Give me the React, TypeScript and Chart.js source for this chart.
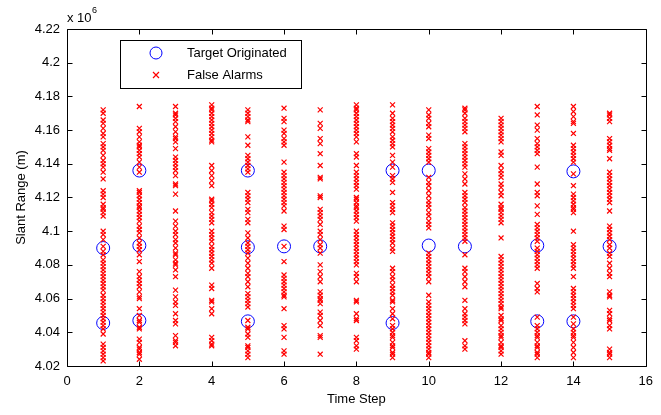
import React, { useEffect, useRef } from "react";
import { Chart, registerables } from "chart.js";

Chart.register(...registerables);

// Values in units of 10^6 m
const xTicks = [0, 2, 4, 6, 8, 10, 12, 14, 16];
const yTickLabels = ["4.02", "4.04", "4.06", "4.08", "4.1", "4.12", "4.14", "4.16", "4.18", "4.2", "4.22"];
const seriesLabels = ["Target Originated", "False Alarms"];

const targetSteps = [1, 1, 2, 2, 2, 5, 5, 5, 6, 7, 9, 9, 10, 10, 11, 13, 13, 14, 14, 15];
const targetRanges = [4.090, 4.0455, 4.136, 4.0915, 4.047, 4.136, 4.0905, 4.0465, 4.091, 4.091, 4.136, 4.0455, 4.136, 4.0915, 4.091, 4.0915, 4.0465, 4.1355, 4.0465, 4.091];

const fa1 = [4.172, 4.170, 4.166, 4.164, 4.161, 4.158, 4.156, 4.152, 4.150, 4.148, 4.145, 4.142, 4.140, 4.138, 4.135, 4.131, 4.124, 4.122, 4.120, 4.116, 4.114, 4.113, 4.111, 4.109, 4.100, 4.098, 4.095, 4.091, 4.088, 4.086, 4.083, 4.081, 4.079, 4.077, 4.075, 4.073, 4.071, 4.069, 4.067, 4.065, 4.062, 4.060, 4.058, 4.056, 4.054, 4.052, 4.050, 4.048, 4.046, 4.044, 4.042, 4.039, 4.033, 4.031, 4.029, 4.027, 4.025, 4.023];
const fa2 = [4.174, 4.161, 4.159, 4.156, 4.153, 4.151, 4.150, 4.148, 4.146, 4.144, 4.141, 4.138, 4.135, 4.124, 4.123, 4.121, 4.119, 4.117, 4.115, 4.114, 4.112, 4.110, 4.108, 4.106, 4.103, 4.101, 4.099, 4.096, 4.093, 4.091, 4.089, 4.086, 4.082, 4.076, 4.073, 4.071, 4.069, 4.067, 4.064, 4.061, 4.060, 4.054, 4.050, 4.047, 4.046, 4.043, 4.042, 4.036, 4.034, 4.031, 4.030, 4.028, 4.027, 4.024];
const fa3 = [4.174, 4.170, 4.169, 4.167, 4.165, 4.162, 4.159, 4.156, 4.155, 4.153, 4.149, 4.144, 4.142, 4.140, 4.138, 4.136, 4.133, 4.128, 4.127, 4.122, 4.112, 4.106, 4.103, 4.100, 4.098, 4.095, 4.093, 4.090, 4.087, 4.086, 4.083, 4.081, 4.080, 4.077, 4.073, 4.065, 4.061, 4.058, 4.056, 4.051, 4.047, 4.045, 4.038, 4.035, 4.034, 4.032];
const fa4 = [4.175, 4.173, 4.172, 4.170, 4.168, 4.166, 4.164, 4.162, 4.160, 4.158, 4.156, 4.154, 4.153, 4.139, 4.136, 4.133, 4.130, 4.127, 4.119, 4.118, 4.116, 4.114, 4.111, 4.109, 4.107, 4.105, 4.100, 4.098, 4.096, 4.094, 4.091, 4.089, 4.087, 4.085, 4.083, 4.081, 4.078, 4.068, 4.066, 4.059, 4.058, 4.054, 4.051, 4.037, 4.035, 4.033, 4.032];
const fa5 = [4.172, 4.170, 4.168, 4.166, 4.165, 4.156, 4.151, 4.145, 4.143, 4.141, 4.139, 4.137, 4.135, 4.123, 4.121, 4.119, 4.117, 4.113, 4.111, 4.107, 4.105, 4.099, 4.096, 4.093, 4.091, 4.089, 4.087, 4.084, 4.081, 4.078, 4.075, 4.073, 4.070, 4.067, 4.063, 4.061, 4.059, 4.057, 4.055, 4.047, 4.043, 4.042, 4.039, 4.037, 4.032, 4.031, 4.029, 4.027, 4.025];
const fa6 = [4.173, 4.167, 4.165, 4.160, 4.158, 4.155, 4.153, 4.151, 4.141, 4.135, 4.133, 4.131, 4.129, 4.127, 4.125, 4.123, 4.121, 4.119, 4.117, 4.115, 4.112, 4.103, 4.101, 4.091, 4.082, 4.074, 4.072, 4.070, 4.068, 4.066, 4.064, 4.062, 4.061, 4.054, 4.044, 4.042, 4.037, 4.029, 4.027];
const fa7 = [4.172, 4.164, 4.161, 4.155, 4.152, 4.146, 4.139, 4.132, 4.131, 4.121, 4.120, 4.113, 4.111, 4.109, 4.107, 4.104, 4.100, 4.098, 4.095, 4.092, 4.090, 4.087, 4.080, 4.076, 4.073, 4.070, 4.064, 4.062, 4.060, 4.059, 4.057, 4.052, 4.050, 4.047, 4.044, 4.038, 4.037, 4.027];
const fa8 = [4.175, 4.173, 4.172, 4.170, 4.168, 4.166, 4.164, 4.162, 4.160, 4.158, 4.156, 4.153, 4.146, 4.144, 4.139, 4.135, 4.133, 4.131, 4.129, 4.127, 4.125, 4.120, 4.119, 4.117, 4.115, 4.114, 4.112, 4.110, 4.108, 4.106, 4.100, 4.098, 4.096, 4.094, 4.092, 4.090, 4.088, 4.086, 4.084, 4.082, 4.080, 4.075, 4.073, 4.070, 4.059, 4.058, 4.051, 4.048, 4.047, 4.037, 4.035, 4.032, 4.030];
const fa9 = [4.175, 4.170, 4.167, 4.165, 4.163, 4.161, 4.159, 4.156, 4.154, 4.152, 4.150, 4.145, 4.141, 4.138, 4.133, 4.131, 4.129, 4.123, 4.117, 4.115, 4.113, 4.111, 4.105, 4.103, 4.101, 4.099, 4.097, 4.095, 4.093, 4.090, 4.088, 4.078, 4.076, 4.073, 4.071, 4.068, 4.066, 4.064, 4.062, 4.059, 4.058, 4.054, 4.051, 4.048, 4.044, 4.042, 4.040, 4.038, 4.037, 4.034, 4.032, 4.031, 4.028, 4.027, 4.025];
const fa10 = [4.172, 4.169, 4.167, 4.164, 4.162, 4.157, 4.155, 4.149, 4.147, 4.145, 4.143, 4.141, 4.132, 4.129, 4.127, 4.124, 4.121, 4.118, 4.116, 4.114, 4.111, 4.109, 4.106, 4.104, 4.102, 4.087, 4.085, 4.083, 4.081, 4.079, 4.077, 4.075, 4.073, 4.070, 4.062, 4.058, 4.056, 4.054, 4.052, 4.050, 4.048, 4.046, 4.044, 4.042, 4.040, 4.038, 4.036, 4.034, 4.032, 4.030, 4.028, 4.027, 4.025];
const fa11 = [4.173, 4.172, 4.170, 4.167, 4.165, 4.163, 4.161, 4.159, 4.152, 4.150, 4.148, 4.146, 4.144, 4.142, 4.140, 4.138, 4.134, 4.131, 4.128, 4.123, 4.121, 4.119, 4.117, 4.114, 4.112, 4.110, 4.108, 4.106, 4.104, 4.102, 4.100, 4.098, 4.096, 4.094, 4.086, 4.078, 4.076, 4.073, 4.070, 4.067, 4.059, 4.054, 4.051, 4.049, 4.047, 4.045, 4.035, 4.032, 4.030];
const fa12 = [4.167, 4.165, 4.163, 4.161, 4.159, 4.157, 4.155, 4.153, 4.147, 4.145, 4.139, 4.136, 4.134, 4.132, 4.128, 4.126, 4.123, 4.121, 4.116, 4.114, 4.113, 4.111, 4.109, 4.107, 4.105, 4.096, 4.085, 4.083, 4.081, 4.079, 4.077, 4.075, 4.073, 4.071, 4.069, 4.067, 4.065, 4.063, 4.061, 4.059, 4.057, 4.055, 4.054, 4.050, 4.048, 4.047, 4.044, 4.042, 4.040, 4.038, 4.037, 4.034, 4.032, 4.031, 4.029, 4.027];
const fa13 = [4.174, 4.169, 4.163, 4.160, 4.155, 4.152, 4.150, 4.148, 4.146, 4.138, 4.128, 4.123, 4.121, 4.115, 4.110, 4.104, 4.102, 4.100, 4.098, 4.096, 4.094, 4.090, 4.088, 4.086, 4.084, 4.082, 4.080, 4.078, 4.069, 4.066, 4.064, 4.049, 4.044, 4.042, 4.040, 4.038, 4.037, 4.034, 4.032, 4.031, 4.028, 4.027, 4.025];
const fa14 = [4.174, 4.171, 4.168, 4.165, 4.164, 4.158, 4.151, 4.149, 4.147, 4.145, 4.143, 4.141, 4.134, 4.127, 4.122, 4.120, 4.118, 4.116, 4.114, 4.113, 4.111, 4.100, 4.092, 4.090, 4.088, 4.086, 4.084, 4.082, 4.080, 4.078, 4.073, 4.066, 4.064, 4.062, 4.060, 4.058, 4.056, 4.054, 4.049, 4.045, 4.042, 4.040, 4.038, 4.037, 4.034, 4.031, 4.028, 4.025];
const fa15 = [4.170, 4.169, 4.167, 4.165, 4.155, 4.153, 4.151, 4.149, 4.148, 4.143, 4.135, 4.133, 4.131, 4.129, 4.127, 4.125, 4.123, 4.121, 4.119, 4.117, 4.112, 4.103, 4.101, 4.099, 4.097, 4.095, 4.092, 4.090, 4.087, 4.085, 4.081, 4.078, 4.075, 4.073, 4.064, 4.062, 4.061, 4.053, 4.051, 4.048, 4.047, 4.044, 4.042, 4.030, 4.028, 4.027, 4.025];

const falseAlarmColumns = [fa1, fa2, fa3, fa4, fa5, fa6, fa7, fa8, fa9, fa10, fa11, fa12, fa13, fa14, fa15];

const FONT = "'Liberation Sans', Arial, Helvetica, sans-serif";

const decorPlugin = {
  id: "matlabDecor",
  afterDraw(chart: any) {
    const ctx = chart.ctx;
    const area = chart.chartArea;
    const xs = chart.scales.x;
    const ys = chart.scales.y;
    ctx.save();
    ctx.strokeStyle = "#000";
    ctx.lineWidth = 1;
    const L = Math.round(area.left) + 0.5;
    const R = Math.round(area.right) + 0.5;
    const T = Math.round(area.top) + 0.5;
    const B = Math.round(area.bottom) + 0.5;
    ctx.beginPath();
    ctx.rect(L, T, R - L, B - T);
    ctx.stroke();
    const tl = 5;
    ctx.beginPath();
    xTicks.forEach((v) => {
      const px = Math.round(xs.getPixelForValue(v)) + 0.5;
      ctx.moveTo(px, B);
      ctx.lineTo(px, B - tl);
      ctx.moveTo(px, T);
      ctx.lineTo(px, T + tl);
    });
    yTickLabels.forEach((s) => {
      const py = Math.round(ys.getPixelForValue(parseFloat(s))) + 0.5;
      ctx.moveTo(L, py);
      ctx.lineTo(L + tl, py);
      ctx.moveTo(R, py);
      ctx.lineTo(R - tl, py);
    });
    ctx.stroke();

    ctx.fillStyle = "#000";
    ctx.textBaseline = "middle";
    ctx.textAlign = "left";
    ctx.font = `13px ${FONT}`;
    ctx.fillText("x 10", 67, 18);
    const w = ctx.measureText("x 10").width;
    ctx.font = `9px ${FONT}`;
    ctx.fillText("6", 67 + w + 0.5, 11);

    ctx.font = `13px ${FONT}`;
    ctx.textAlign = "center";
    ctx.fillText("Time Step", (area.left + area.right) / 2, 399);
    ctx.save();
    ctx.translate(21, (area.top + area.bottom) / 2);
    ctx.rotate(-Math.PI / 2);
    ctx.fillText("Slant Range (m)", 0, 0);
    ctx.restore();

    ctx.fillStyle = "#fff";
    ctx.fillRect(120, 40, 181, 48);
    ctx.strokeStyle = "#000";
    ctx.strokeRect(120.5, 40.5, 181, 48);
    ctx.strokeStyle = "#0000ff";
    ctx.beginPath();
    ctx.arc(156, 53, 6, 0, Math.PI * 2);
    ctx.stroke();
    ctx.strokeStyle = "#ff0000";
    ctx.lineWidth = 1.2;
    ctx.beginPath();
    ctx.moveTo(153, 72);
    ctx.lineTo(159, 78);
    ctx.moveTo(159, 72);
    ctx.lineTo(153, 78);
    ctx.stroke();
    ctx.fillStyle = "#000";
    ctx.textAlign = "left";
    ctx.font = `13px ${FONT}`;
    ctx.fillText(seriesLabels[0], 187, 53);
    ctx.fillText(seriesLabels[1], 187, 75);
    ctx.restore();
  },
};

export default function App() {
  const ref = useRef<HTMLCanvasElement | null>(null);
  useEffect(() => {
    if (!ref.current) return;
    const targetPts = targetSteps.map((t, i) => ({ x: t, y: targetRanges[i] }));
    const faPts: { x: number; y: number }[] = [];
    falseAlarmColumns.forEach((col, i) => {
      col.forEach((v) => faPts.push({ x: i + 1, y: v }));
    });
    const chart = new Chart(ref.current, {
      type: "scatter",
      data: {
        datasets: [
          {
            label: seriesLabels[0],
            data: targetPts,
            pointStyle: "circle",
            pointRadius: 6.5,
            pointBorderWidth: 1,
            borderColor: "#0000ff",
            backgroundColor: "rgba(0,0,0,0)",
            order: 2,
          },
          {
            label: seriesLabels[1],
            data: faPts,
            pointStyle: "crossRot",
            pointRadius: 3.5,
            pointBorderWidth: 1.2,
            borderColor: "#ff0000",
            backgroundColor: "#ff0000",
            order: 1,
          },
        ],
      },
      options: {
        animation: false,
        responsive: false,
        maintainAspectRatio: false,
        layout: { padding: { top: 29, right: 14, left: 0, bottom: 0 } },
        plugins: { legend: { display: false }, tooltip: { enabled: false } },
        scales: {
          x: {
            type: "linear",
            min: 0,
            max: 16,
            grid: { display: false, drawTicks: false },
            border: { display: false },
            afterBuildTicks: (s: any) => {
              s.ticks = xTicks.map((v) => ({ value: v }));
            },
            afterFit: (s: any) => {
              s.height = 49;
            },
            ticks: {
              color: "#000",
              padding: 8,
              maxRotation: 0,
              font: { family: FONT, size: 13 },
              callback: (v: any) => String(v),
            },
          },
          y: {
            type: "linear",
            min: 4.02,
            max: 4.22,
            grid: { display: false, drawTicks: false },
            border: { display: false },
            afterBuildTicks: (s: any) => {
              s.ticks = yTickLabels.map((l) => ({ value: parseFloat(l) }));
            },
            afterFit: (s: any) => {
              s.width = 67;
            },
            ticks: {
              color: "#000",
              padding: 7,
              font: { family: FONT, size: 13 },
              callback: (v: any) => {
                const lbl = yTickLabels.find((l) => Math.abs(parseFloat(l) - v) < 1e-6);
                return lbl ?? "";
              },
            },
          },
        },
      },
      plugins: [decorPlugin],
    });
    return () => chart.destroy();
  }, []);
  return (
    <div style={{ position: "absolute", left: 0, top: 0, width: 661, height: 415, background: "#fff" }}>
      <canvas ref={ref} width={661} height={415} style={{ width: 661, height: 415, display: "block" }} />
    </div>
  );
}
